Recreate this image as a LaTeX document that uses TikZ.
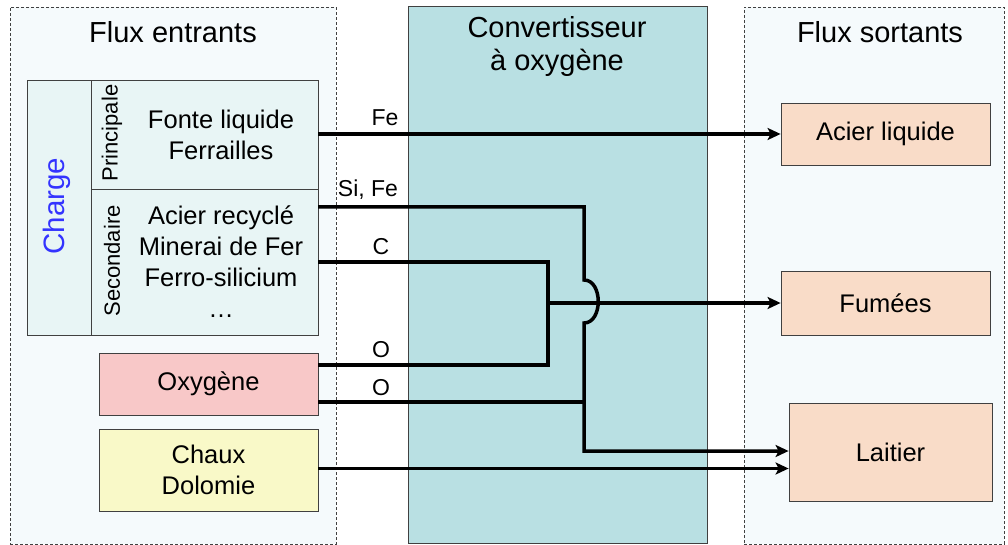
\documentclass[tikz,border=0pt]{standalone}
\usepackage{fontspec}
\setmainfont{Liberation Sans}
\usetikzlibrary{arrows.meta}
\definecolor{fondcadre}{HTML}{F5FAFC}
\definecolor{fondconv}{HTML}{B9E0E3}
\definecolor{fondcharge}{HTML}{E8F5F5}
\definecolor{fondoxy}{HTML}{F8C8C8}
\definecolor{fondchaux}{HTML}{F9F9C8}
\definecolor{fondsortie}{HTML}{F9DCC8}
\definecolor{bleucharge}{HTML}{3333FF}
\begin{document}
\begin{tikzpicture}[x=1pt,y=-1pt,
    cadre/.style={draw=black!75,dash pattern=on 3pt off 2pt,fill=fondcadre,inner sep=0pt},
    boite/.style={draw=black!75,line width=0.8pt,inner sep=0pt},
    titre/.style={font=\fontsize{29}{33}\selectfont,align=center},
    txt/.style={font=\fontsize{25.5}{31}\selectfont,align=center},
    lbl/.style={font=\fontsize{23}{25}\selectfont},
    flux/.style={line width=3.5pt},
    fleche/.style={flux,-{Stealth[length=13pt,width=12pt,inset=3pt]}}]
    \useasboundingbox (0,0) rectangle (1008,545);
    % cadres
    \node[cadre,minimum width=326pt,minimum height=537pt] (entrants) at (173,275.5) {};
    \node[boite,fill=fondconv,minimum width=299pt,minimum height=537pt] (conv) at (557.5,274.5) {};
    \node[cadre,minimum width=260pt,minimum height=537pt] (sortants) at (874,275.5) {};
    \node[titre] (tEntrants) at (173,32) {Flux entrants};
    \node[titre] (tConv) at (557,47) {Convertisseur\\à oxygène};
    \node[titre] (tSortants) at (880,32) {Flux sortants};
    % charge
    \node[boite,fill=fondcharge,minimum width=64pt,minimum height=255pt] (charge) at (59,207.5) {};
    \node[boite,fill=fondcharge,minimum width=227pt,minimum height=109pt] (principale) at (204.5,134.5) {};
    \node[boite,fill=fondcharge,minimum width=227pt,minimum height=146pt] (secondaire) at (204.5,262) {};
    \node[rotate=90,text=bleucharge,font=\fontsize{29.5}{30}\selectfont] (tCharge) at (57,206) {Charge};
    \node[rotate=90,txt,font=\fontsize{22}{25}\selectfont] (tPrinc) at (112,133) {Principale};
    \node[rotate=90,txt,font=\fontsize{22}{25}\selectfont] (tSecond) at (112,261) {Secondaire};
    \node[txt] (lPrinc) at (221,135) {Fonte liquide\\Ferrailles};
    \node[txt] (lSecond) at (221,262) {Acier recyclé\\Minerai de Fer\\Ferro-silicium\\\dots};
    % autres entrees
    \node[boite,fill=fondoxy,minimum width=219pt,minimum height=62pt,txt] (oxygene) at (208.5,384) {Oxygène};
    \node[boite,fill=fondchaux,minimum width=219pt,minimum height=82pt,txt] (chaux) at (208.5,470) {Chaux\\Dolomie};
    % sorties
    \node[boite,fill=fondsortie,minimum width=209pt,minimum height=62pt,txt] (acier) at (885.5,134) {Acier liquide};
    \node[boite,fill=fondsortie,minimum width=209pt,minimum height=64pt,txt] (fumees) at (885.5,303) {Fumées};
    \node[boite,fill=fondsortie,minimum width=203pt,minimum height=98pt,txt] (laitier) at (890.5,452) {Laitier};
    % points des flux
    \coordinate (inFe) at (318,134);
    \coordinate (inSiFe) at (318,207);
    \coordinate (inC) at (318,262);
    \coordinate (inO) at (318,365);
    \coordinate (inOb) at (318,402);
    \coordinate (inChaux) at (318,468.5);
    \coordinate (noeudCO) at (548,303);
    \coordinate (sautHaut) at (584,280);
    \coordinate (sautBas) at (584,323);
    % flux
    \draw[fleche] (inFe) -- (inFe -| acier.west);
    \draw[flux] (inC) -| (noeudCO) |- (inO);
    \draw[fleche] (noeudCO) -- (noeudCO -| fumees.west);
    \draw[fleche] (inSiFe) -| (sautHaut) .. controls (603,280) and (603,323) .. (sautBas) |- (laitier.west |- 0,451);
    \draw[flux] (inOb) -- (inOb -| sautBas);
    \draw[fleche] (inChaux) -- (inChaux -| laitier.west);
    \node[lbl] (lFe) at (385,118) {Fe};
    \node[lbl] (lSiFe) at (368,190) {Si, Fe};
    \node[lbl] (lC) at (381,247) {C};
    \node[lbl] (lO) at (381,350) {O};
    \node[lbl] (lOb) at (381,388) {O};
\end{tikzpicture}
\end{document}
